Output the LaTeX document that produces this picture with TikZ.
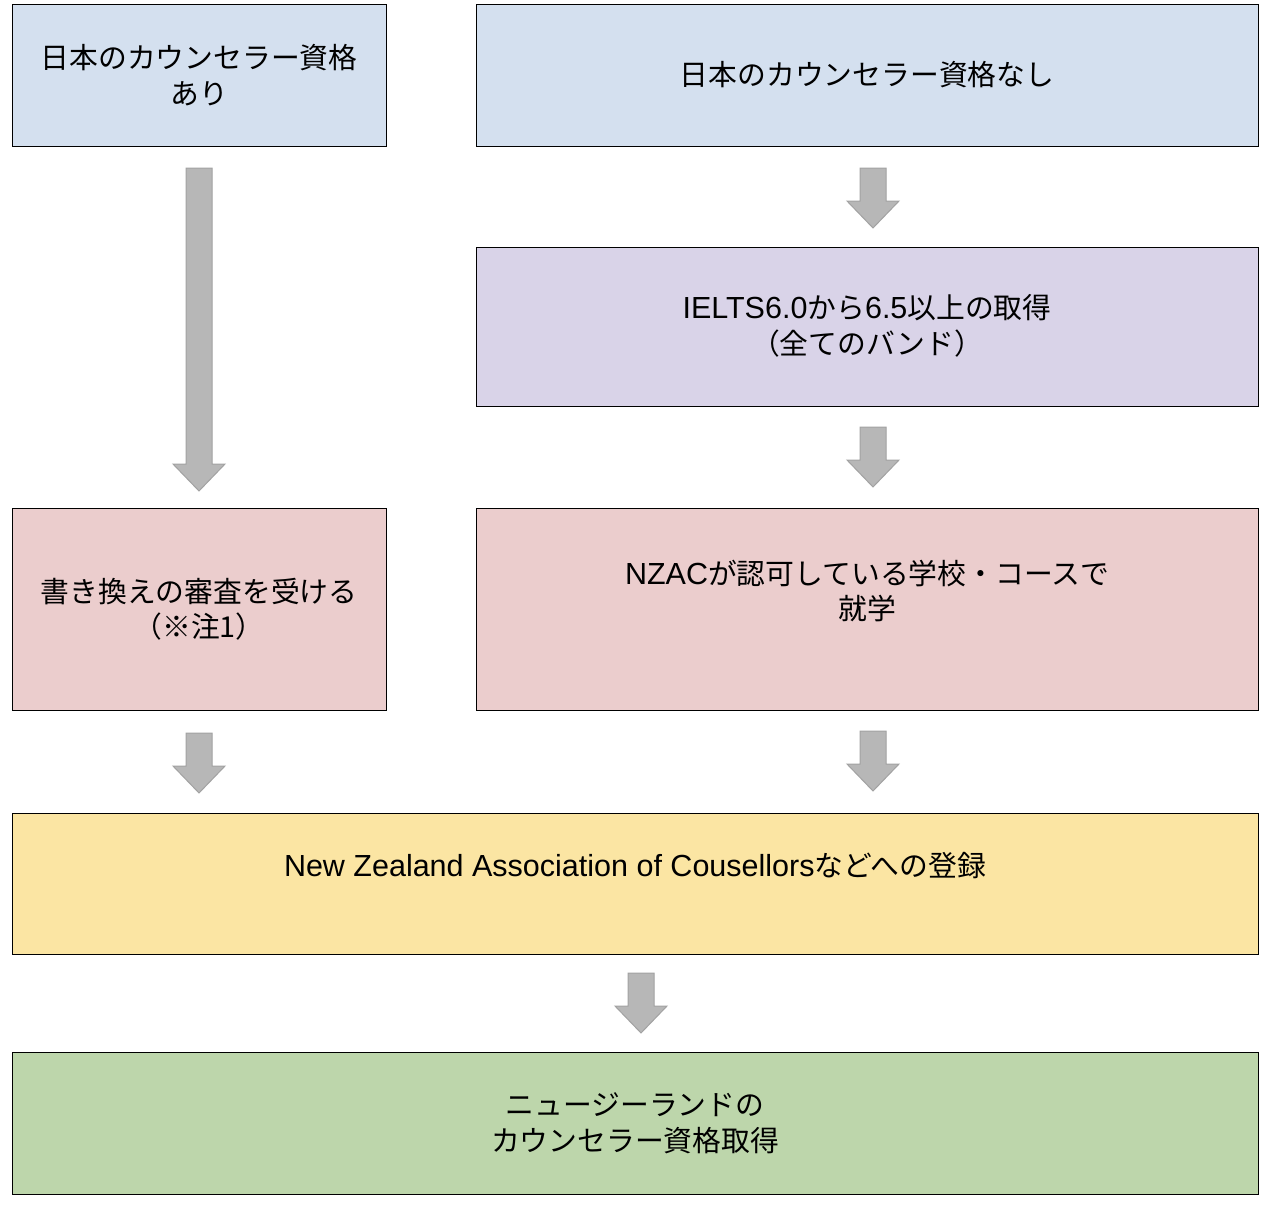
\documentclass[tikz,border=0pt]{standalone}
\usepackage{fontspec}
\setmainfont{Liberation Sans}
\newfontfamily\jpf{Noto Sans CJK JP}
\newcommand\jp{\jpf\fontsize{28.8}{35.5}\selectfont}
\definecolor{cblue}{HTML}{D4E0EF}
\definecolor{cpurple}{HTML}{D9D3E8}
\definecolor{cpink}{HTML}{EBCDCD}
\definecolor{cyellow}{HTML}{FBE5A3}
\definecolor{cgreen}{HTML}{BDD6AB}
\definecolor{arrfill}{HTML}{B7B7B7}
\definecolor{arrline}{HTML}{A2A2A2}
\newcommand\grayarrow[3]{%
  \draw[arrowstyle] (#1-13,#2) -- (#1+13,#2) -- (#1+13,#3-27) -- (#1+26,#3-27)
    -- (#1,#3) -- (#1-26,#3-27) -- (#1-13,#3-27) -- cycle;}
\begin{document}
\begin{tikzpicture}[x=1pt,y=-1pt,
  box/.style={draw=black, line width=0.9pt, inner sep=0pt, outer sep=0pt},
  txt/.style={align=center, inner sep=0pt, font=\fontsize{30.5}{35.5}\selectfont},
  arrowstyle/.style={fill=arrfill, draw=arrline, line width=1pt}]
\useasboundingbox (0,0) rectangle (1268,1207);
\fill[white] (0,0) rectangle (1268,1207);
% boxes
\node[box, fill=cblue, minimum width=374pt, minimum height=142pt] (b1) at (199,75) {};
\node[box, fill=cblue, minimum width=782pt, minimum height=142pt] (b2) at (867,75) {};
\node[box, fill=cpurple, minimum width=782pt, minimum height=159pt] (b3) at (867,326.5) {};
\node[box, fill=cpink, minimum width=374pt, minimum height=202pt] (b4) at (199,609) {};
\node[box, fill=cpink, minimum width=782pt, minimum height=202pt] (b5) at (867,609) {};
\node[box, fill=cyellow, minimum width=1246pt, minimum height=141pt] (b6) at (635,883.5) {};
\node[box, fill=cgreen, minimum width=1246pt, minimum height=142pt] (b7) at (635,1123) {};
% texts
\node[txt] (t1) at (199,75) {{\jp 日本のカウンセラー資格}\\{\jp あり}};
\node[txt] (t2) at (867,75) {{\jp 日本のカウンセラー資格なし}};
\node[txt] (t3) at (867,326) {IELTS6.0{\jp から}6.5{\jp 以上の取得}\\{\jp （全てのバンド）}};
\node[txt] (t4) at (199,609) {{\jp 書き換えの審査を受ける}\\{\jp （※注1）}};
\node[txt] (t5) at (867,591) {NZAC{\jp が認可している学校・コースで}\\{\jp 就学}};
\node[txt] (t6) at (635,866) {New Zealand Association of Cousellors{\jp などへの登録}};
\node[txt] (t7) at (635,1123) {{\jp ニュージーランドの}\\{\jp カウンセラー資格取得}};
% arrows
\grayarrow{199}{168}{491}
\grayarrow{873}{168}{228}
\grayarrow{873}{427}{487}
\grayarrow{199}{733}{793}
\grayarrow{873}{731}{791}
\grayarrow{641}{973}{1033}
\end{tikzpicture}
\end{document}
